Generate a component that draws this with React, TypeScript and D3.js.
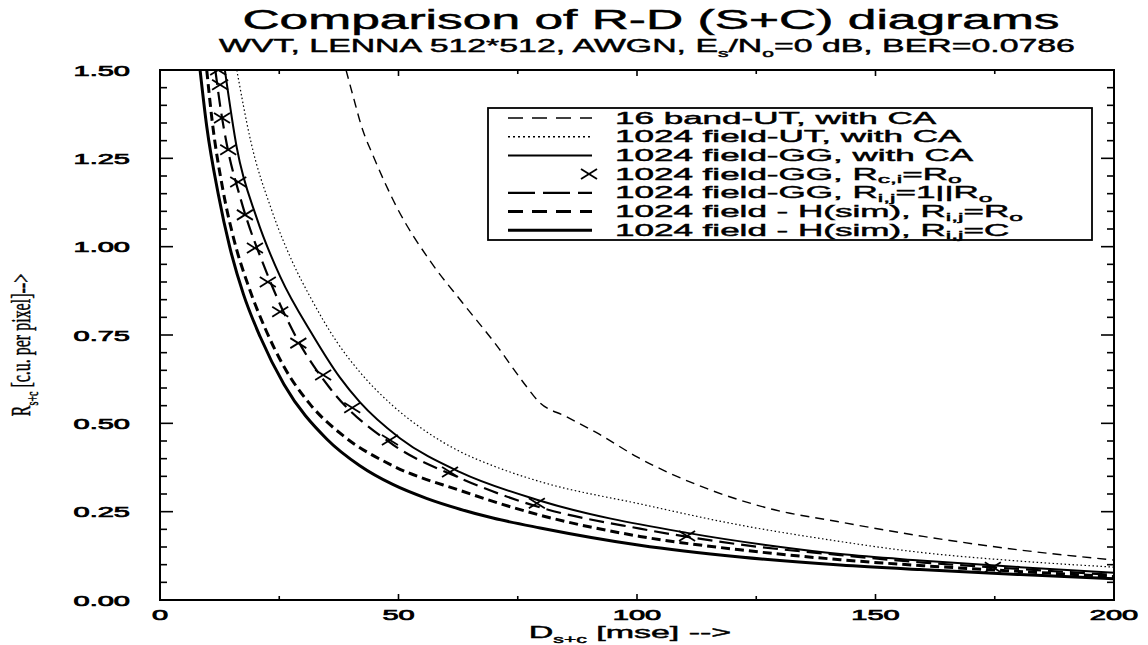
import React from 'react';
import * as d3 from 'd3';

// Rate-distortion curves (D in mse, R in c.u. per pixel)
const band16UT_D = [39, 40.4, 42.5, 44.6, 49.7, 56.6, 63.5, 70.6, 76.5, 79.5, 85, 92, 100, 114.7, 128, 142, 160, 180, 200];
const band16UT_R = [1.5, 1.43, 1.33, 1.26, 1.11, 0.96, 0.84, 0.72, 0.61, 0.56, 0.52, 0.47, 0.405, 0.315, 0.258, 0.222, 0.18, 0.142, 0.113];

const fieldUT_D = [16.1, 19, 23.5, 28, 31.4, 37.1, 41.9, 48.8, 56, 62.9, 69.8, 79.7, 100.6, 121.6, 138, 159.3, 180.3, 200];
const fieldUT_R = [1.5, 1.3, 1.1, 0.95, 0.86, 0.73, 0.645, 0.55, 0.475, 0.42, 0.38, 0.335, 0.272, 0.212, 0.175, 0.135, 0.11, 0.093];

const fieldGG_D = [13.6, 16.1, 20.3, 25.2, 32, 37.7, 41.9, 50.3, 62.9, 79.7, 110.5, 128.5, 142.6, 159.3, 180.3, 200];
const fieldGG_R = [1.5, 1.28, 1.08, 0.915, 0.75, 0.63, 0.56, 0.458, 0.362, 0.281, 0.19, 0.153, 0.13, 0.112, 0.093, 0.077];

const markGG_D = [12.2, 12.6, 13.0, 14.3, 16.4, 17.8, 19.9, 22.6, 25.2, 29.0, 34.2, 40.3, 48.2, 60.8, 79.0, 110.5, 174.6];
const markGG_R = [1.5, 1.458, 1.364, 1.274, 1.183, 1.09, 0.996, 0.9, 0.816, 0.727, 0.637, 0.544, 0.453, 0.362, 0.274, 0.181, 0.093];

const fieldGG1_D = [11.6, 12.6, 14, 16.8, 22.4, 28.7, 35.6, 48.8, 62.9, 79.7, 100.6, 121.6, 142.6, 160, 180, 200];
const fieldGG1_R = [1.5, 1.4, 1.29, 1.14, 0.925, 0.74, 0.6, 0.44, 0.345, 0.262, 0.202, 0.157, 0.127, 0.106, 0.088, 0.071];

const hsimRo_D = [9.8, 10.9, 13.2, 15.5, 18.5, 22, 26, 31.4, 38.4, 48.8, 62.9, 79.7, 100.6, 121.6, 142.6, 160, 180, 200];
const hsimRo_R = [1.5, 1.36, 1.16, 1.02, 0.89, 0.77, 0.66, 0.555, 0.465, 0.38, 0.31, 0.24, 0.18, 0.142, 0.114, 0.097, 0.081, 0.066];

const hsimC_D = [8.4, 9.8, 12.2, 14.6, 17.5, 21, 26, 35, 41.9, 48.8, 56, 62.9, 69.8, 79.7, 100.6, 121.6, 142.6, 159.3, 180.3, 200];
const hsimC_R = [1.5, 1.34, 1.15, 1.0, 0.865, 0.745, 0.61, 0.455, 0.38, 0.327, 0.287, 0.257, 0.232, 0.204, 0.155, 0.122, 0.099, 0.086, 0.072, 0.06];

const xTicks = [0, 50, 100, 150, 200];
const yTicks = [0, 0.25, 0.5, 0.75, 1.0, 1.25, 1.5];

const legendLabels = [
  '16 band-UT, with CA',
  '1024 field-UT, with CA',
  '1024 field-GG, with CA',
  '1024 field-GG, R_{c,i}=R_{o}',
  '1024 field-GG, R_{i,j}=1||R_{o}',
  '1024 field - H(sim), R_{i,j}=R_{o}',
  '1024 field - H(sim), R_{i,j}=C',
];

const SANS = '"Liberation Sans", Arial, Helvetica, sans-serif';
const SERIF = '"Liberation Serif", "Times New Roman", serif';

const W = 1148;
const H = 645;
const L = 160, R = 1114, T = 70, B = 600;

const x = d3.scaleLinear().domain([0, 200]).range([L, R]);
const y = d3.scaleLinear().domain([0, 1.5]).range([B, T]);

const zip = (xs: number[], ys: number[]) => xs.map((d, i) => [d, ys[i]] as [number, number]);

const line = d3.line<[number, number]>()
  .x(d => x(d[0]))
  .y(d => y(d[1]))
  .curve(d3.curveMonotoneX);

// "text_{sub}" -> tspans with subscripts
function richText(s: string, size: number, subScale = 0.62, shift = 0.3) {
  const parts = s.split(/(_\{[^}]*\})/).filter(p => p.length);
  const out: any[] = [];
  let down = false;
  parts.forEach((p, i) => {
    if (p.startsWith('_{')) {
      out.push(<tspan key={i} fontSize={size * subScale} dy={size * shift}>{p.slice(2, -1)}</tspan>);
      down = true;
    } else {
      out.push(<tspan key={i} dy={down ? -size * shift : 0}>{p}</tspan>);
      down = false;
    }
  });
  return out;
}

const Txt = ({ x, y, sx, size, anchor = 'start', family = SANS, sw = 0.45, children }: any) => (
  <text
    transform={`translate(${x},${y}) scale(${sx},1)`}
    textAnchor={anchor}
    fontSize={size}
    fontFamily={family}
    fill="#000"
    stroke="#000"
    strokeWidth={sw}
  >
    {children}
  </text>
);

const series = [
  { data: zip(band16UT_D, band16UT_R), width: 1.4, dash: '9,6', legDash: '15,9', legWidth: 1.6 },
  { data: zip(fieldUT_D, fieldUT_R), width: 1.2, dash: '1.5,2.5', legDash: '2,3', legWidth: 1.4 },
  { data: zip(fieldGG_D, fieldGG_R), width: 2, dash: null, legDash: null, legWidth: 2 },
  { data: zip(markGG_D, markGG_R), width: 0, dash: null, legDash: null, legWidth: 0, marks: true },
  { data: zip(fieldGG1_D, fieldGG1_R), width: 2.2, dash: '15,7', legDash: '27,8', legWidth: 2.2 },
  { data: zip(hsimRo_D, hsimRo_R), width: 3, dash: '9,5', legDash: '15,9', legWidth: 3 },
  { data: zip(hsimC_D, hsimC_R), width: 3, dash: null, legDash: null, legWidth: 3 },
];

const Cross = ({ cx, cy }: any) => (
  <g stroke="#000" strokeWidth={1.8}>
    <line x1={cx - 8} y1={cy - 5} x2={cx + 8} y2={cy + 5} />
    <line x1={cx - 8} y1={cy + 5} x2={cx + 8} y2={cy - 5} />
  </g>
);

export default function App() {
  const yMinor = d3.range(0, 1.5001, 0.05);
  const xMinor = d3.range(0, 200.01, 25);
  const legX0 = 488, legY0 = 108, legX1 = 1092, legY1 = 240;
  const rowY = (i: number) => 118 + i * 18.7;

  return (
    <svg width={W} height={H} style={{ position: 'absolute', left: 0, top: 0, background: '#fff' }}>
      <defs>
        <clipPath id="plot">
          <rect x={L} y={T} width={R - L} height={B - T} />
        </clipPath>
      </defs>

      {/* titles */}
      <Txt x={651} y={29} sx={1.84} size={28} anchor="middle" sw={0.5}>Comparison of R-D (S+C) diagrams</Txt>
      <Txt x={647} y={52} sx={1.88} size={18} anchor="middle">
        {richText('WVT, LENNA 512*512, AWGN, E_{s}/N_{o}=0 dB, BER=0.0786', 18)}
      </Txt>

      {/* curves */}
      <g clipPath="url(#plot)" fill="none" stroke="#000">
        {series.filter(s => !s.marks).map((s, i) => (
          <path key={i} d={line(s.data) || ''} strokeWidth={s.width} strokeDasharray={s.dash || undefined} />
        ))}
        {series.filter(s => s.marks).map(s => s.data.map((d, j) => <Cross key={j} cx={x(d[0])} cy={y(d[1])} />))}
      </g>

      {/* frame + ticks */}
      <rect x={L} y={T} width={R - L} height={B - T} fill="none" stroke="#000" strokeWidth={2} />
      <g stroke="#000" strokeWidth={1.6}>
        {yMinor.map((v, i) => {
          const major = i % 5 === 0;
          const len = major ? 13 : 7;
          return (
            <g key={i}>
              <line x1={L} x2={L + len} y1={y(v)} y2={y(v)} />
              <line x1={R} x2={R - len} y1={y(v)} y2={y(v)} />
            </g>
          );
        })}
        {xMinor.map((v, i) => {
          const len = i % 2 === 0 ? 6 : 4;
          return (
            <g key={i}>
              <line x1={x(v)} x2={x(v)} y1={B} y2={B - len} />
              <line x1={x(v)} x2={x(v)} y1={T} y2={T + len} />
            </g>
          );
        })}
      </g>

      {/* tick labels */}
      {yTicks.map(v => (
        <Txt key={v} x={130} y={y(v) + 5.5} sx={2.0} size={14.5} anchor="end" sw={0.7}>{d3.format('.2f')(v)}</Txt>
      ))}
      {xTicks.map(v => (
        <Txt key={v} x={x(v)} y={620} sx={2.0} size={14.5} anchor="middle" sw={0.7}>{v}</Txt>
      ))}

      {/* axis titles */}
      <Txt x={630} y={638} sx={2.0} size={17} anchor="middle">{richText('D_{s+c} [mse] -->', 17)}</Txt>
      <text
        transform={`translate(30,345) scale(1.7,1) rotate(-90)`}
        textAnchor="middle"
        fontSize={16}
        fontFamily={SERIF}
        fill="#000"
        stroke="#000"
        strokeWidth={0.3}
      >
        {richText('R_{s+c} [c.u. per pixel]-->', 16)}
      </text>

      {/* legend */}
      <rect x={legX0} y={legY0} width={legX1 - legX0} height={legY1 - legY0} fill="#fff" stroke="#000" strokeWidth={1.8} />
      {series.map((s, i) => (
        <g key={i}>
          {s.marks ? (
            <Cross cx={589} cy={rowY(i)} />
          ) : (
            <line x1={508} x2={592} y1={rowY(i)} y2={rowY(i)} stroke="#000"
              strokeWidth={s.legWidth} strokeDasharray={s.legDash || undefined} />
          )}
          <Txt x={615} y={rowY(i) + 5.5} sx={2.19} size={16}>{richText(legendLabels[i], 16, 0.7, 0.22)}</Txt>
        </g>
      ))}
    </svg>
  );
}
